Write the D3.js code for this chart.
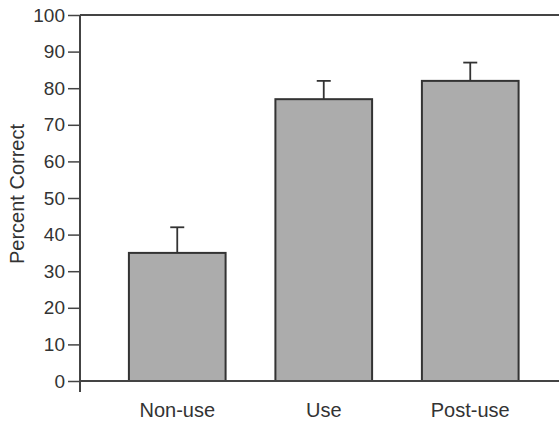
<!DOCTYPE html>
<html><head><meta charset="utf-8">
<script src="https://cdn.jsdelivr.net/npm/d3@7"></script>
<style>body{margin:0;background:#fff;} text{font-family:"Liberation Sans",Arial,Helvetica,sans-serif;fill:#333;}</style>
</head><body><svg id="c" width="559" height="421"></svg>
<script>
const categories = ["Non-use", "Use", "Post-use"];
const means = [35, 77, 82];
const errors = [7, 5, 5];
const yTicks = [0, 10, 20, 30, 40, 50, 60, 70, 80, 90, 100];

const svg = d3.select("#c");
const x0 = 80, yTop = 15, yBot = 381;
const y = d3.scaleLinear().domain([0, 100]).range([yBot, yTop]);
const x = d3.scaleBand().domain(categories).range([104, 543.5]).paddingInner(0.34).paddingOuter(0.17);
const axisColor = "#444";

// bars
svg.selectAll("rect.bar").data(categories).enter().append("rect")
  .attr("x", d => x(d)).attr("width", x.bandwidth())
  .attr("y", (d, i) => y(means[i])).attr("height", (d, i) => y(0) - y(means[i]))
  .attr("fill", "#acacac").attr("stroke", "#333").attr("stroke-width", 2);

// error bars
const eb = svg.selectAll("g.eb").data(categories).enter().append("g");
eb.append("line")
  .attr("x1", d => x(d) + x.bandwidth() / 2).attr("x2", d => x(d) + x.bandwidth() / 2)
  .attr("y1", (d, i) => y(means[i])).attr("y2", (d, i) => y(means[i] + errors[i]))
  .attr("stroke", "#333").attr("stroke-width", 1.8);
eb.append("line")
  .attr("x1", d => x(d) + x.bandwidth() / 2 - 7).attr("x2", d => x(d) + x.bandwidth() / 2 + 7)
  .attr("y1", (d, i) => y(means[i] + errors[i])).attr("y2", (d, i) => y(means[i] + errors[i]))
  .attr("stroke", "#333").attr("stroke-width", 1.8);

// y axis
const yAxis = d3.axisLeft(y).tickValues(yTicks).tickSize(12).tickPadding(3);
const gy = svg.append("g").attr("transform", `translate(${x0},0)`).call(yAxis);
gy.select(".domain").remove();
gy.selectAll(".tick line").attr("stroke", axisColor).attr("stroke-width", 1.5);
gy.selectAll(".tick text").attr("font-size", 19).attr("fill", "#333");
svg.append("line").attr("x1", x0).attr("x2", x0).attr("y1", yTop).attr("y2", yBot + 11)
  .attr("stroke", axisColor).attr("stroke-width", 2);

// x axis and top frame line
svg.append("line").attr("x1", x0).attr("x2", 559).attr("y1", yBot).attr("y2", yBot)
  .attr("stroke", axisColor).attr("stroke-width", 2);
svg.append("line").attr("x1", x0).attr("x2", 559).attr("y1", yTop).attr("y2", yTop)
  .attr("stroke", axisColor).attr("stroke-width", 2);

// x labels
const xAxis = d3.axisBottom(x).tickSize(0).tickPadding(22);
const gx = svg.append("g").attr("transform", `translate(0,${yBot})`).call(xAxis);
gx.select(".domain").remove();
gx.selectAll(".tick text").attr("font-size", 20).attr("fill", "#333");

// y label
svg.append("text").attr("transform", "translate(24,194) rotate(-90)")
  .attr("text-anchor", "middle").attr("font-size", 20).text("Percent Correct");
</script></body></html>
